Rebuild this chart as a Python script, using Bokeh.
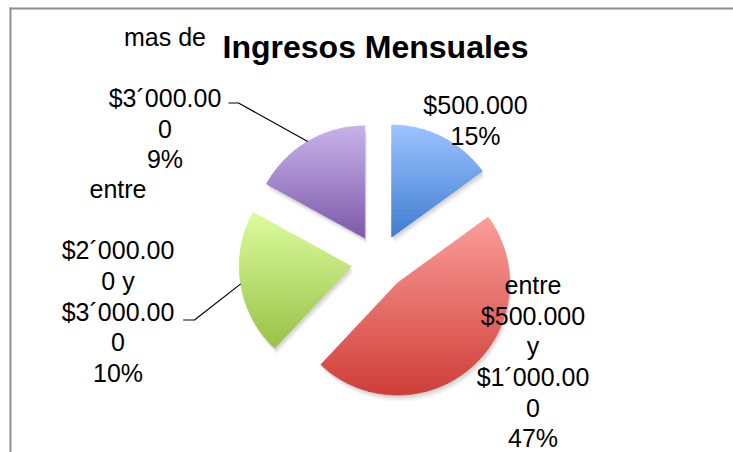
import numpy as np
from bokeh.plotting import figure
from bokeh.models import Range1d, ColumnDataSource
from bokeh.core.properties import value
from bokeh.embed import file_html
from bokeh.resources import INLINE

# ---------------- data ----------------
title_text = "Ingresos Mensuales"
categories = ["$500.000",
              "entre $500.000 y $1´000.000",
              "entre $2´000.000 y $3´000.000",
              "mas de $3´000.000"]
shares = [15, 47, 21, 17]          # slice sizes as drawn (percent of the circle)
pct_labels = ["15%", "47%", "10%", "9%"]   # percentages printed in the labels
name_lines = [
    ["$500.000"],
    ["entre", "$500.000", "y", "$1´000.00", "0"],
    ["entre", "", "$2´000.00", "0 y", "$3´000.00", "0"],
    ["mas de", "", "$3´000.00", "0"],
]
top_colors = ["#9dc3ff", "#fb9e9a", "#dcfd9e", "#c8b2eb"]
bottom_colors = ["#3f7dd1", "#cf3e38", "#98c246", "#7d5aaa"]

# ---------------- layout (pixel space) ----------------
W, H = 733, 452
CX, CY, R, EXPLODE = 378.5, 261.5, 112.0, 28.0
LINE_H = 30.7
TEXT_SHIFT = -9.0
label_anchor = [(475.0, 113.3), (532.5, 293.3), (117.5, 197.3), (164.5, 45.0)]
leader_elbows = {3: [(228.0, 102.5), (238.0, 102.5)],
                 2: [(182.7, 319.5), (194.0, 319.5)]}

p = figure(width=W, height=H, x_range=Range1d(0, W), y_range=Range1d(H, 0),
           output_backend="svg", toolbar_location=None, min_border=0,
           x_axis_type=None, y_axis_type=None)
p.grid.visible = False
p.outline_line_color = None
p.background_fill_color = "white"
p.border_fill_color = "white"


def hex2rgb(h):
    h = h.lstrip("#")
    return np.array([int(h[i:i + 2], 16) for i in (0, 2, 4)], dtype=float)


def rgb2hex(c):
    return "#%02x%02x%02x" % tuple(int(round(v)) for v in c)


def clip_half(poly, y0, keep_above):
    out = []
    n = len(poly)
    for i in range(n):
        a = poly[i]
        b = poly[(i + 1) % n]
        ina = (a[1] >= y0) if keep_above else (a[1] <= y0)
        inb = (b[1] >= y0) if keep_above else (b[1] <= y0)
        if ina:
            out.append(a)
        if ina != inb:
            t = (y0 - a[1]) / (b[1] - a[1])
            out.append((a[0] + t * (b[0] - a[0]), y0))
    return out


def sector(vx, vy, a0, a1, r):
    th = np.linspace(a0, a1, 120)
    pts = [(vx, vy)] + [(vx + r * np.sin(t), vy - r * np.cos(t)) for t in th]
    return pts


total = float(sum(shares))
starts = np.cumsum([0] + shares[:-1]) / total * 2 * np.pi
ends = np.cumsum(shares) / total * 2 * np.pi

slices = []
for i in range(len(shares)):
    a0, a1 = starts[i], ends[i]
    mid = (a0 + a1) / 2
    vx = CX + EXPLODE * np.sin(mid)
    vy = CY - EXPLODE * np.cos(mid)
    slices.append((vx, vy, a0, a1, mid))

# shadows
for (dx, dy, al) in [(1, 2, 0.05), (1.5, 3.5, 0.05), (2, 5, 0.04), (2.5, 6.5, 0.03)]:
    xs, ys = [], []
    for (vx, vy, a0, a1, mid) in slices:
        pts = sector(vx + dx, vy + dy, a0, a1, R)
        xs.append([q[0] for q in pts])
        ys.append([q[1] for q in pts])
    p.patches(xs, ys, fill_color="black", fill_alpha=al, line_color=None)

# gradient-filled slices
NB = 45
for i, (vx, vy, a0, a1, mid) in enumerate(slices):
    pts = sector(vx, vy, a0, a1, R)
    ymin = min(q[1] for q in pts)
    ymax = max(q[1] for q in pts)
    c0, c1 = hex2rgb(top_colors[i]), hex2rgb(bottom_colors[i])
    edges = np.linspace(ymin, ymax, NB + 1)
    xs, ys, cols = [], [], []
    for k in range(NB):
        poly = clip_half(pts, edges[k], True)
        if len(poly) < 3:
            continue
        poly = clip_half(poly, edges[k + 1], False)
        if len(poly) < 3:
            continue
        t = (k + 0.5) / NB
        xs.append([q[0] for q in poly])
        ys.append([q[1] for q in poly])
        cols.append(rgb2hex(c0 + (c1 - c0) * t))
    p.patches(xs=xs, ys=ys, fill_color=cols, line_color=cols, line_width=0.8)

# leader lines
for i, elbow in leader_elbows.items():
    vx, vy, a0, a1, mid = slices[i]
    ex = vx + R * np.sin(mid)
    ey = vy - R * np.cos(mid)
    lx = [e[0] for e in elbow] + [ex]
    ly = [e[1] for e in elbow] + [ey]
    p.line(lx, ly, line_color="black", line_width=1.2)

# labels
tx, ty, tt = [], [], []
for i in range(len(shares)):
    lines = name_lines[i] + [pct_labels[i]]
    ax, ay = label_anchor[i]
    for j, s in enumerate(lines):
        if s == "":
            continue
        tx.append(ax)
        ty.append(ay + j * LINE_H + TEXT_SHIFT)
        tt.append(s)
src = ColumnDataSource(dict(x=tx, y=ty, text=tt))
p.text(x="x", y="y", text="text", source=src, text_font=value("Liberation Sans"),
       text_font_size="25px", text_align="center", text_baseline="alphabetic",
       text_color="black")

# title
p.text(x=[375], y=[55 + TEXT_SHIFT], text=[title_text], text_font=value("Liberation Sans"),
       text_font_size="32px", text_font_style="bold", text_align="center",
       text_baseline="alphabetic", text_color="black")

# chart-area border (top and left edges visible)
p.line([9, W], [8, 8], line_color="#8e8e8e", line_width=2)
p.line([10, 10], [7, H], line_color="#8e8e8e", line_width=2)

open("out.html", "w").write(file_html(p, INLINE))
